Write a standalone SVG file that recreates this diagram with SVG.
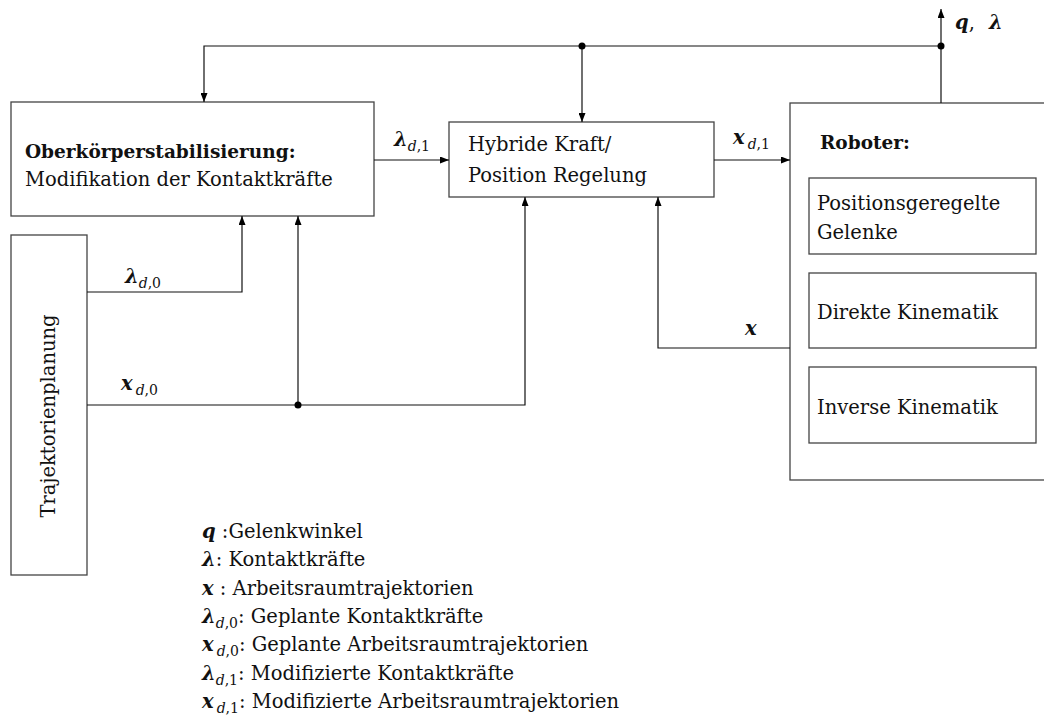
<svg xmlns="http://www.w3.org/2000/svg" width="1044" height="720" viewBox="0 0 1044 720">
<defs>
<marker id="arr" viewBox="0 0 9 7" refX="9" refY="3.5" markerWidth="9" markerHeight="7" markerUnits="userSpaceOnUse" orient="auto">
<path d="M0,0 L9,3.5 L0,7 z" fill="#000"/>
</marker>
<style>
.box{fill:#fff;stroke:#444;stroke-width:1.3}
.ln{fill:none;stroke:#111;stroke-width:1.2}
.t{font-family:"DejaVu Serif","Liberation Serif",serif;font-size:19.5px;fill:#111}
.b{font-weight:bold;font-size:18.5px}
.m{font-family:"DejaVu Serif","Liberation Serif",serif;font-weight:bold;font-style:italic;font-size:19.5px;fill:#111}
.s{font-family:"DejaVu Serif","Liberation Serif",serif;font-weight:normal;font-style:normal;font-size:14px}
.si{font-style:italic}
.dot{fill:#000}
</style>
</defs>
<rect width="1044" height="720" fill="#fff"/>

<g id="oberkoerper">
<rect class="box" x="11" y="102" width="363" height="114"/>
<text class="t b" x="25" y="158">Oberkörperstabilisierung:</text>
<text class="t" x="25" y="186">Modifikation der Kontaktkräfte</text>
</g>

<g id="hybrid">
<rect class="box" x="449" y="122" width="265" height="75"/>
<text class="t" x="468" y="151">Hybride Kraft/</text>
<text class="t" x="468" y="182">Position Regelung</text>
</g>

<g id="roboter">
<rect class="box" x="790" y="103" width="270" height="377"/>
<text class="t b" x="820" y="149">Roboter:</text>
</g>

<g id="gelenke">
<rect class="box" x="809" y="178" width="227" height="76"/>
<text class="t" x="817" y="210">Positionsgeregelte</text>
<text class="t" x="817" y="239">Gelenke</text>
</g>

<g id="direkt">
<rect class="box" x="809" y="273" width="227" height="75"/>
<text class="t" x="817" y="319">Direkte Kinematik</text>
</g>

<g id="invers">
<rect class="box" x="809" y="367" width="227" height="76"/>
<text class="t" x="817" y="414">Inverse Kinematik</text>
</g>

<g id="trajektorie">
<rect class="box" x="11" y="235" width="76" height="340"/>
<text class="t" text-anchor="middle" transform="translate(55,416) rotate(-90)">Trajektorienplanung</text>
</g>

<g id="connectors">
<polyline class="ln" points="941,103 941,46 204,46 204,102" marker-end="url(#arr)"/>
<line class="ln" x1="582" y1="46" x2="582" y2="122" marker-end="url(#arr)"/>
<line class="ln" x1="941" y1="46" x2="941" y2="9" marker-end="url(#arr)"/>
<circle class="dot" cx="582" cy="46" r="3.5"/>
<circle class="dot" cx="941" cy="46" r="3.5"/>
<line class="ln" x1="374" y1="160" x2="449" y2="160" marker-end="url(#arr)"/>
<line class="ln" x1="714" y1="160" x2="790" y2="160" marker-end="url(#arr)"/>
<polyline class="ln" points="790,348 658,348 658,197" marker-end="url(#arr)"/>
<polyline class="ln" points="87,292 242,292 242,216" marker-end="url(#arr)"/>
<polyline class="ln" points="87,405 525,405 525,197" marker-end="url(#arr)"/>
<line class="ln" x1="298" y1="405" x2="298" y2="216" marker-end="url(#arr)"/>
<circle class="dot" cx="298" cy="405" r="3.5"/>
</g>

<g id="labels">
<text class="m" x="955" y="29">q<tspan font-style="normal" font-weight="normal">, </tspan><tspan dx="8">λ</tspan></text>
<text class="m" x="394" y="146">λ<tspan class="s si" dy="5">d</tspan><tspan class="s">,1</tspan></text>
<text class="m" x="733" y="144">x<tspan class="s si" dy="5" dx="3">d</tspan><tspan class="s">,1</tspan></text>
<text class="m" x="745" y="335">x</text>
<text class="m" x="125" y="283">λ<tspan class="s si" dy="5">d</tspan><tspan class="s">,0</tspan></text>
<text class="m" x="121" y="390">x<tspan class="s si" dy="5" dx="3">d</tspan><tspan class="s">,0</tspan></text>
</g>

<g id="legend">
<text class="t" x="202" y="538"><tspan class="m">q</tspan> :Gelenkwinkel</text>
<text class="t" x="202" y="566"><tspan class="m">λ</tspan>: Kontaktkräfte</text>
<text class="t" x="202" y="595"><tspan class="m">x</tspan> : Arbeitsraumtrajektorien</text>
<text class="t" x="202" y="623"><tspan class="m">λ</tspan><tspan class="s si" dy="5">d</tspan><tspan class="s">,0</tspan><tspan dy="-5">: Geplante Kontaktkräfte</tspan></text>
<text class="t" x="202" y="651"><tspan class="m">x</tspan><tspan class="s si" dy="5" dx="3">d</tspan><tspan class="s">,0</tspan><tspan dy="-5">: Geplante Arbeitsraumtrajektorien</tspan></text>
<text class="t" x="202" y="680"><tspan class="m">λ</tspan><tspan class="s si" dy="5">d</tspan><tspan class="s">,1</tspan><tspan dy="-5">: Modifizierte Kontaktkräfte</tspan></text>
<text class="t" x="202" y="708"><tspan class="m">x</tspan><tspan class="s si" dy="5" dx="3">d</tspan><tspan class="s">,1</tspan><tspan dy="-5">: Modifizierte Arbeitsraumtrajektorien</tspan></text>
</g>
</svg>
